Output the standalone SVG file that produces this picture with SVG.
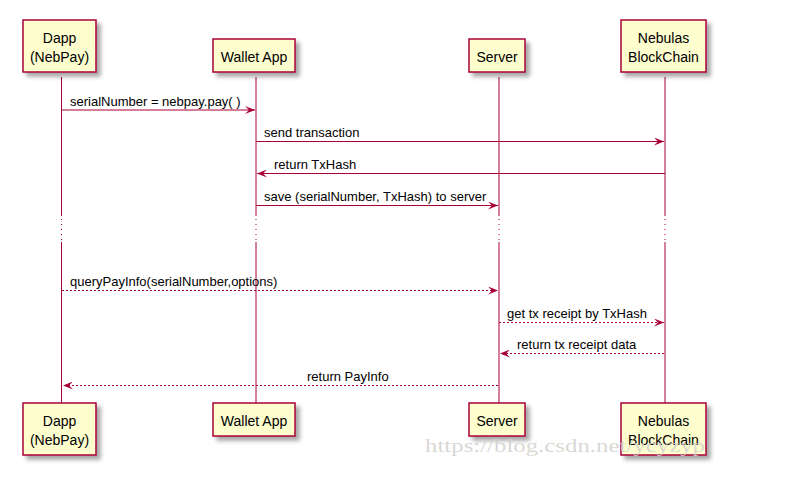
<svg xmlns="http://www.w3.org/2000/svg" width="786" height="479" viewBox="0 0 786 479">
<defs>
<filter id="sh" x="-20%" y="-20%" width="150%" height="160%">
<feGaussianBlur in="SourceAlpha" stdDeviation="2"/>
<feOffset dx="4" dy="4" result="b"/>
<feFlood flood-color="#000" flood-opacity="0.35"/>
<feComposite in2="b" operator="in"/>
<feMerge><feMergeNode/><feMergeNode in="SourceGraphic"/></feMerge>
</filter>
<marker id="ah" viewBox="0 0 10 8" refX="10" refY="4" markerWidth="10" markerHeight="8" markerUnits="userSpaceOnUse" orient="auto">
<polygon points="0,0 10,4 0,8 4,4" fill="#A80036"/>
</marker>
</defs>
<style>
.box{fill:#FEFECE;stroke:#A80036;stroke-width:1.5;filter:url(#sh)}
.pt{font-family:"Liberation Sans",Arial,sans-serif;font-size:14px;fill:#000;text-anchor:middle}
.life{stroke:#A80036;stroke-width:1}
.dot{stroke:#A80036;stroke-width:1;stroke-dasharray:1,4}
.msg{stroke:#A80036;stroke-width:1;fill:none;marker-end:url(#ah)}
.dash{stroke-dasharray:2,2}
.ml{font-family:"Liberation Sans",Arial,sans-serif;font-size:13px;fill:#000}
</style>
<rect width="786" height="479" fill="#fff"/>
<g id="lifelines">
<line class="life" x1="61.5" y1="77" x2="61.5" y2="216"/>
<line class="dot" x1="61.5" y1="219" x2="61.5" y2="241"/>
<line class="life" x1="61.5" y1="242" x2="61.5" y2="403"/>
<line class="life" x1="256" y1="77" x2="256" y2="216"/>
<line class="dot" x1="256" y1="219" x2="256" y2="241"/>
<line class="life" x1="256" y1="242" x2="256" y2="403"/>
<line class="life" x1="499" y1="77" x2="499" y2="216"/>
<line class="dot" x1="499" y1="219" x2="499" y2="241"/>
<line class="life" x1="499" y1="242" x2="499" y2="403"/>
<line class="life" x1="665" y1="77" x2="665" y2="216"/>
<line class="dot" x1="665" y1="219" x2="665" y2="241"/>
<line class="life" x1="665" y1="242" x2="665" y2="403"/>
</g>
<g id="dapp">
<rect class="box" x="23" y="20" width="73" height="52"/>
<text class="pt" x="59.5" y="43">Dapp</text>
<text class="pt" x="59.5" y="62">(NebPay)</text>
</g>
<g id="wallet">
<rect class="box" x="213" y="39" width="82" height="33"/>
<text class="pt" x="254" y="62">Wallet App</text>
</g>
<g id="server">
<rect class="box" x="469" y="39" width="56" height="33"/>
<text class="pt" x="497" y="62">Server</text>
</g>
<g id="nebulas">
<rect class="box" x="621" y="20" width="85" height="52"/>
<text class="pt" x="663.5" y="43">Nebulas</text>
<text class="pt" x="663.5" y="62">BlockChain</text>
</g>
<g id="dapp-bottom">
<rect class="box" x="23" y="403" width="73" height="52"/>
<text class="pt" x="59.5" y="426">Dapp</text>
<text class="pt" x="59.5" y="445">(NebPay)</text>
</g>
<g id="wallet-bottom">
<rect class="box" x="213" y="403" width="82" height="33"/>
<text class="pt" x="254" y="426">Wallet App</text>
</g>
<g id="server-bottom">
<rect class="box" x="469" y="403" width="56" height="33"/>
<text class="pt" x="497" y="426">Server</text>
</g>
<g id="nebulas-bottom">
<rect class="box" x="621" y="403" width="85" height="52"/>
<text class="pt" x="663.5" y="426">Nebulas</text>
<text class="pt" x="663.5" y="445">BlockChain</text>
</g>
<g id="connectors">
<line class="msg" x1="62" y1="110" x2="255" y2="110"/>
<text class="ml" x="70" y="106">serialNumber = nebpay.pay( )</text>
<line class="msg" x1="256" y1="141.5" x2="664" y2="141.5"/>
<text class="ml" x="264" y="137">send transaction</text>
<line class="msg" x1="665" y1="173.5" x2="257" y2="173.5"/>
<text class="ml" x="274" y="169">return TxHash</text>
<line class="msg" x1="256" y1="205.5" x2="498" y2="205.5"/>
<text class="ml" x="264" y="201">save (serialNumber, TxHash) to server</text>
<line class="msg dash" x1="62" y1="290.5" x2="498" y2="290.5"/>
<text class="ml" x="70" y="286">queryPayInfo(serialNumber,options)</text>
<line class="msg dash" x1="499" y1="322.5" x2="664" y2="322.5"/>
<text class="ml" x="507" y="318">get tx receipt by TxHash</text>
<line class="msg dash" x1="664" y1="353.5" x2="500" y2="353.5"/>
<text class="ml" x="517" y="349">return tx receipt data</text>
<line class="msg dash" x1="498" y1="385.5" x2="63" y2="385.5"/>
<text class="ml" x="307" y="381">return PayInfo</text>
</g>
<text x="425" y="452" font-family="Liberation Serif,'Times New Roman',serif" font-size="19" fill="#d4d0cc" fill-opacity="0.85" textLength="280" lengthAdjust="spacingAndGlyphs">https://blog.csdn.net/ycyzyp</text>
</svg>
